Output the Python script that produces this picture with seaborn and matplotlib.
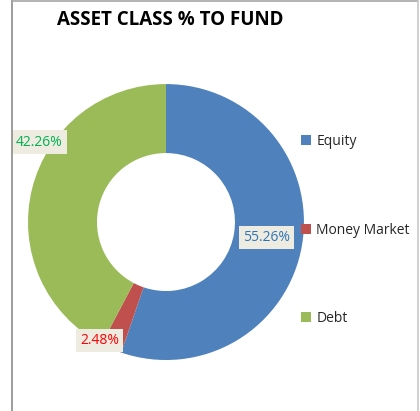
import matplotlib
matplotlib.use("Agg")
import matplotlib.pyplot as plt
from matplotlib.lines import Line2D
import seaborn as sns

# veri
categories = ["Equity", "Money Market", "Debt"]
values = [55.26, 2.48, 42.26]
colors = ["#4F81BD", "#C0504D", "#9BBB59"]
label_colors = ["#2E75B6", "#FF0000", "#00B050"]
# etiket yerleri (pasta koordinatı, r=1)
label_pos = [(0.73, -0.11), (-0.48, -0.86), (-0.92, 0.58)]

sns.set_theme(style="white")
plt.rcParams["font.family"] = ["Open Sans", "DejaVu Sans"]

fig = plt.figure(figsize=(4.2, 4.11), dpi=100)
ax = fig.add_axes([0.0667, 0.124, 0.657, 0.6715])

wedges, _ = ax.pie(values, colors=sns.color_palette(colors), startangle=90,
                   counterclock=False, radius=1,
                   wedgeprops=dict(width=0.5, edgecolor="none", linewidth=0))
ax.set_xlim(-1, 1)
ax.set_ylim(-1, 1)
ax.set_aspect("equal")
ax.axis("off")

for v, c, (x, y) in zip(values, label_colors, label_pos):
    ax.text(x, y, f"{v:.2f}%", color=c, fontsize=10, ha="center", va="center",
            bbox=dict(boxstyle="square,pad=0.3", fc="#EEECE1", ec="none"))

# başlık
fig.text(170 / 420, 1 - 20 / 411, "ASSET CLASS % TO FUND", ha="center", va="center",
         fontsize=13.5, fontweight="bold", color="black")

# lejant
leg = fig.legend(wedges, categories, loc="center left", bbox_to_anchor=(288 / 420, 1 - 230 / 411),
                 frameon=False, fontsize=10, handlelength=0.75, handleheight=0.75,
                 handletextpad=0.4, labelspacing=5.3)

# çerçeve
fig.add_artist(Line2D([12 / 420, 12 / 420], [0, 1], color="#8C8C8C", lw=1.2))
fig.add_artist(Line2D([12 / 420, 418 / 420], [0.998, 0.998], color="#A6A6A6", lw=1.2))
fig.add_artist(Line2D([418 / 420, 418 / 420], [0, 1], color="#C8C8C8", lw=1.2))

fig.savefig("out.png", dpi=100)
